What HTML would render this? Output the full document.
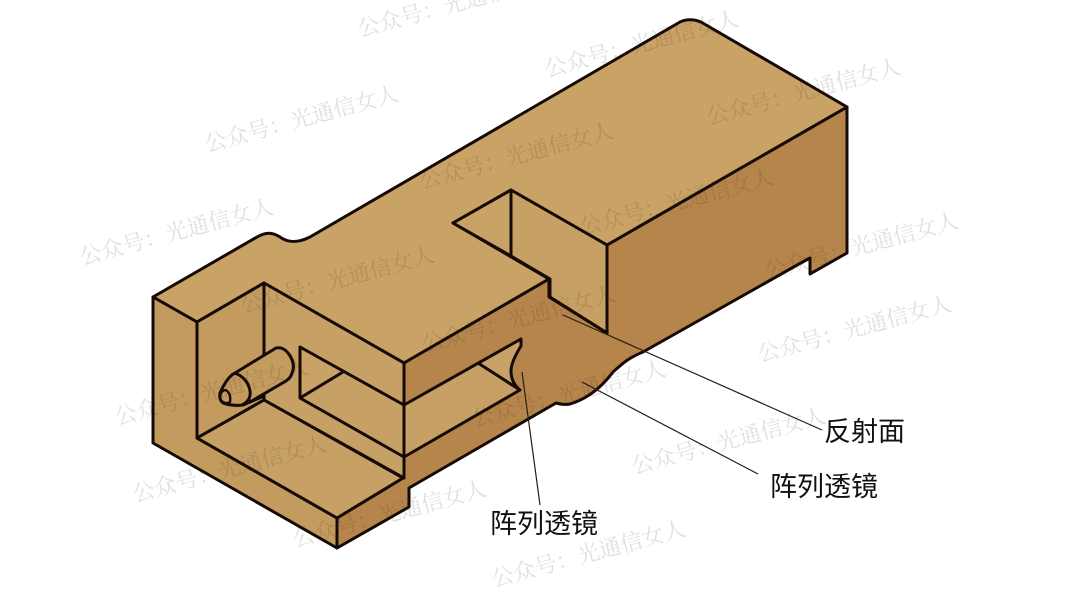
<!DOCTYPE html>
<html>
<head>
<meta charset="utf-8">
<style>
html,body{margin:0;padding:0;background:#fff}
svg{display:block}
.l{font-family:"Liberation Sans","Noto Sans CJK SC",sans-serif;font-size:27px;fill:#111}
.w{font-family:"Liberation Serif","Noto Serif CJK SC",serif;font-size:22.2px;fill:#3c2814;fill-opacity:.15}
</style>
</head>
<body>
<svg width="1080" height="607" viewBox="0 0 1080 607" xmlns="http://www.w3.org/2000/svg">
<rect width="1080" height="607" fill="#fff"/>
<g stroke="#150a05" stroke-width="3" stroke-linejoin="round" stroke-linecap="round">
<!-- dark side body -->
<path fill="#b5854c" d="M404 363L549 279L607 245L847 107V253L810 274V258L799 264L643 352C628 358 622 364 613 372C604 384 590 398 570 404C564 405 560 404 556 403L409 488V507L337 548V518L403 478L404 363Z"/>
<!-- top surface -->
<path fill="#c9a266" d="M153 297L257 237C266 232 272 232 280 237C287 242 296 244 310 237L680 22C686 19 694 19 701 22L847 107L607 245L511 190L453 223L549 279L404 363L264 283L197 322L153 297Z"/>
<!-- left front face -->
<path fill="#c39b5f" d="M153 297L197 322V438L337 518V548L153 443Z"/>
<!-- cavity walls -->
<path fill="#c39b5f" d="M197 322L264 283V400L197 438Z"/>
<path fill="#c6a064" d="M264 283L404 363V478L264 400Z"/>
<!-- cavity floor -->
<path fill="#c6a064" d="M197 438L264 400L403 478L337 518Z"/>
<!-- recess under top -->
<path fill="#b5854c" stroke="none" d="M404 363L549 279V297L521 339L404 405Z"/>
<path fill="none" d="M404 363L549 279"/>
<!-- window -->
<path fill="#c6a064" stroke="none" d="M300 347L404 405L521 339V346C516 354 511 364 511 371C511 380 515 386 520 390L404 457L300 398Z"/>
<path fill="#c9a266" stroke="none" d="M300 347L343 372L300 398Z"/>
<path fill="#c9a266" stroke="none" d="M478 363L521 339V346C516 354 511 364 511 371C511 380 515 386 520 390Z"/>
<path fill="none" d="M300 398V347L404 405L521 339V346C516 354 511 364 511 371C511 380 515 386 520 390L404 457L300 398L343 372M404 363V478M478 363L520 390"/>
<!-- notch recess -->
<path fill="#c9a266" d="M453 223L511 190V256Z"/>
<path fill="#c6a064" d="M511 190L607 245V333L550 297V279L511 256Z"/>
<path fill="none" d="M549 279V297L607 333"/>
<!-- cylinder -->
<path fill="#c39b5f" d="M235 373L276 348C281 347 285 349 288 353C293 359 295 367 292 373C291 377 289 379 286 381L250 402Z"/>
<path fill="#c39b5f" d="M235 373C229 376 224 384 220 393C219 399 221 403 226 404C231 405 236 406 242 405C248 402 251 397 250 391C249 383 243 376 235 373Z"/>
<path fill="#c39b5f" stroke-width="2.4" d="M225 390C229 391 231 396 230 402C227 404 223 403 221 400C219 396 221 391 225 390Z"/>
<path fill="none" d="M243 405L264 396"/>
</g>
<!-- leaders -->
<g stroke="#2a1c12" stroke-width="1.2" fill="none">
<line x1="563" y1="315" x2="822" y2="430"/>
<line x1="582" y1="382" x2="758" y2="474"/>
<line x1="522" y1="372" x2="540" y2="505"/>
</g>
<!-- labels -->
<text class="l" x="824" y="441" textLength="81">反射面</text>
<text class="l" x="770" y="496" textLength="108">阵列透镜</text>
<text class="l" x="490" y="533" textLength="108">阵列透镜</text>
<!-- watermarks -->
<g>
<text class="w" transform="translate(360,37) rotate(-15)">公众号：光通信女人</text>
<text class="w" transform="translate(547,77) rotate(-15)">公众号：光通信女人</text>
<text class="w" transform="translate(709,125) rotate(-15)">公众号：光通信女人</text>
<text class="w" transform="translate(207,152) rotate(-15)">公众号：光通信女人</text>
<text class="w" transform="translate(422,189) rotate(-15)">公众号：光通信女人</text>
<text class="w" transform="translate(582,235) rotate(-15)">公众号：光通信女人</text>
<text class="w" transform="translate(82,265) rotate(-15)">公众号：光通信女人</text>
<text class="w" transform="translate(767,279) rotate(-15)">公众号：光通信女人</text>
<text class="w" transform="translate(243,313) rotate(-15)">公众号：光通信女人</text>
<text class="w" transform="translate(424,352) rotate(-15)">公众号：光通信女人</text>
<text class="w" transform="translate(760,362) rotate(-15)">公众号：光通信女人</text>
<text class="w" transform="translate(117,425) rotate(-15)">公众号：光通信女人</text>
<text class="w" transform="translate(474,427) rotate(-15)">公众号：光通信女人</text>
<text class="w" transform="translate(634,474) rotate(-15)">公众号：光通信女人</text>
<text class="w" transform="translate(135,502) rotate(-15)">公众号：光通信女人</text>
<text class="w" transform="translate(295,547) rotate(-15)">公众号：光通信女人</text>
<text class="w" transform="translate(494,587) rotate(-15)">公众号：光通信女人</text>
</g>
</svg>
</body>
</html>
